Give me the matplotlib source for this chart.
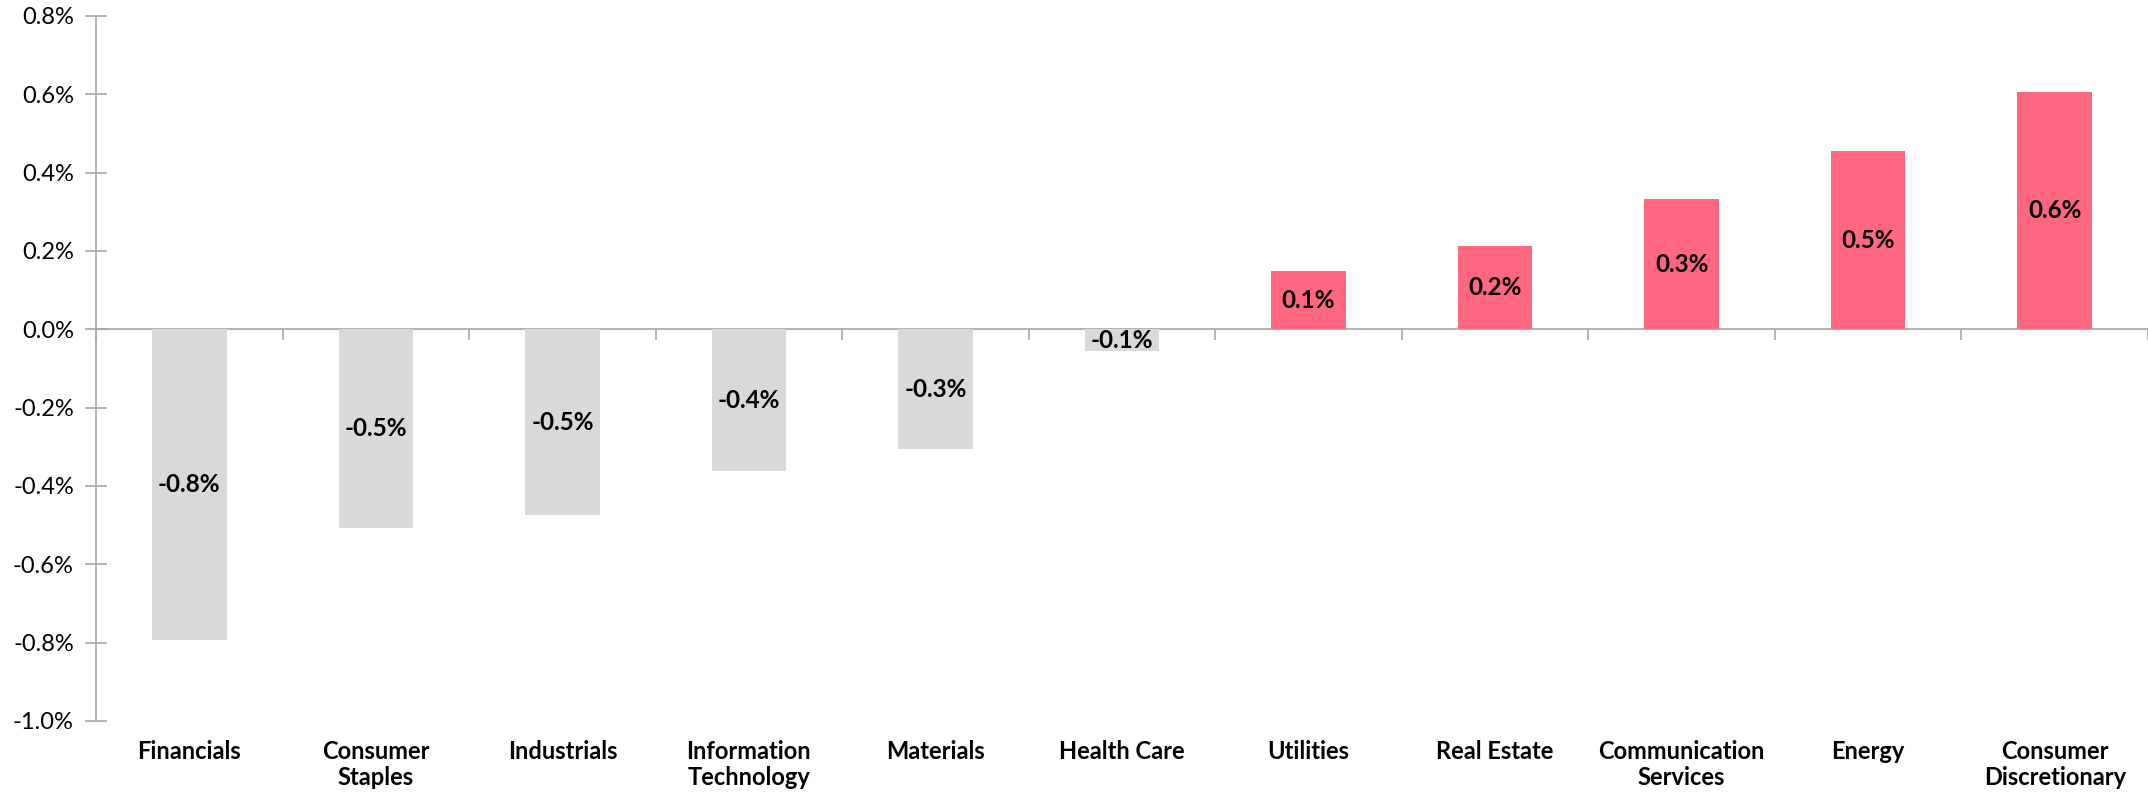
import matplotlib
matplotlib.use("Agg")
from matplotlib import pyplot as plt
from matplotlib.ticker import FuncFormatter, FixedLocator
import numpy as np

# Sector returns (%)
sectors = ["Financials", "Consumer\nStaples", "Industrials", "Information\nTechnology",
           "Materials", "Health Care", "Utilities", "Real Estate",
           "Communication\nServices", "Energy", "Consumer\nDiscretionary"]
returns = [-0.794, -0.507, -0.474, -0.361, -0.305, -0.055, 0.148, 0.213, 0.332, 0.454, 0.606]
y_ticks = [-1.0, -0.8, -0.6, -0.4, -0.2, 0.0, 0.2, 0.4, 0.6, 0.8]

POS_COLOR = "#FF667F"
NEG_COLOR = "#D9D9D9"
AXIS_COLOR = "#A6A6A6"

plt.rcParams["font.family"] = ["Lato", "DejaVu Sans"]

fig = plt.figure(figsize=(21.48, 7.98), dpi=100)
ax = fig.add_axes([0.0447, 0.0965, 0.9553, 0.8835])

x = np.arange(len(sectors))
colors = [POS_COLOR if v > 0 else NEG_COLOR for v in returns]
bars = ax.bar(x, returns, width=0.4, color=colors, zorder=2)

# value labels centred in each bar
for b, v in zip(bars, returns):
    ax.text(b.get_x() + b.get_width() / 2, v / 2, f"{v:.1f}%",
            ha="center", va="center", fontsize=17.5, fontweight="bold", color="black", zorder=3)

ax.set_xlim(-0.5, len(sectors) - 0.5)
ax.set_ylim(-1.0, 0.8)

# y axis
ax.yaxis.set_major_locator(FixedLocator(y_ticks))
ax.yaxis.set_major_formatter(FuncFormatter(lambda v, _: f"{v:.1f}%"))
ax.tick_params(axis="y", direction="inout", length=16, width=1.2, color=AXIS_COLOR,
               labelsize=17, pad=8)

# x axis sits on zero, ticks between categories
ax.spines["bottom"].set_position(("data", 0))
ax.xaxis.set_major_locator(FixedLocator(np.arange(len(sectors) + 1) - 0.5))
ax.xaxis.set_ticklabels([])
ax.tick_params(axis="x", direction="out", length=8, width=1.2, color=AXIS_COLOR)

for s in ["top", "right"]:
    ax.spines[s].set_visible(False)
for s in ["left", "bottom"]:
    ax.spines[s].set_color(AXIS_COLOR)
    ax.spines[s].set_linewidth(1.2)
ax.spines["bottom"].set_zorder(1)

# category labels along the bottom of the plot
for i, name in enumerate(sectors):
    ax.text(i, -0.027, name, transform=ax.get_xaxis_transform(), ha="center", va="top",
            fontsize=17, fontweight="bold", linespacing=1.15)

fig.savefig("out.png", dpi=100)
